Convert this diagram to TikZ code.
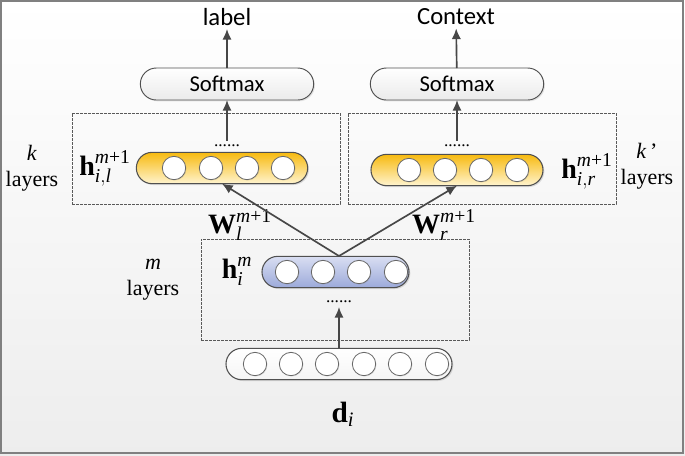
\documentclass[tikz,border=0pt]{standalone}
\usepackage{amsmath}
\usepackage{fontspec}
\setmainfont{Liberation Serif}
\newfontfamily\calibri{Carlito}
\usetikzlibrary{shapes.misc,arrows.meta,shadows}

\definecolor{yeltop}{HTML}{F7BA10}
\definecolor{yelbot}{HTML}{FFF4CF}
\definecolor{blutop}{HTML}{D9DEF2}
\definecolor{blubot}{HTML}{9CAADA}
\definecolor{edge}{HTML}{505050}

\begin{document}
\begin{tikzpicture}[x=0.75pt,y=-0.75pt,
  every node/.style={inner sep=0pt,outer sep=0pt},
  arr/.style={-{Latex[length=8pt,width=7pt]},draw=black!72,line width=1.25pt},
  softbox/.style={rounded rectangle,draw=edge,line width=0.7pt,top color=white,bottom color=black!8,
    minimum width=130pt,minimum height=24pt,font=\calibri\fontsize{17}{20}\selectfont,
    drop shadow={shadow xshift=1pt,shadow yshift=-1pt,opacity=0.2}},
  toptext/.style={inner sep=2.5pt,font=\calibri\fontsize{18.5}{22}\selectfont},
  group/.style={draw=black!65,line width=0.6pt,dash pattern=on 2pt off 1pt,minimum width=201pt},
  capsule/.style={rounded rectangle,draw=edge,line width=0.8pt,minimum height=23.5pt,
    drop shadow={shadow xshift=1pt,shadow yshift=-1pt,opacity=0.25}},
  gold/.style={capsule,top color=yeltop,bottom color=yelbot},
  lavender/.style={capsule,top color=blutop,bottom color=blubot},
  plain/.style={capsule,top color=white,bottom color=black!4},
  unit/.style={circle,draw=black!60,line width=0.6pt,fill=white,minimum size=17.5pt,
    drop shadow={shadow xshift=0.6pt,shadow yshift=-0.6pt,opacity=0.2}},
  dots/.style={inner ysep=3pt,font=\fontsize{13}{15}\selectfont},
  sidetext/.style={align=center,font=\fontsize{16.5}{19.5}\selectfont},
  mathlabel/.style={font=\fontsize{21}{24}\selectfont}]

% background and frame
\useasboundingbox (0,0) rectangle (685,455);
\fill[top color=white,bottom color=black!7] (0,0) rectangle (685,455);
\draw[black!50,line width=1pt] (1,1) rectangle (683,453);

% outputs
\node[toptext] (lab) at (227,17) {label};
\node[toptext] (ctx) at (456,17) {Context};
\node[softbox] (softL) at (227,84) {Softmax};
\node[softbox] (softR) at (457,84) {Softmax};

% dashed layer groups
\node[group,minimum height=68.25pt] (grpL) at (206,158.5) {};
\node[group,minimum height=68.25pt] (grpR) at (482,158.5) {};
\node[group,minimum height=75.75pt] (grpM) at (335,289.5) {};

% upper hidden layers
\node[gold,minimum width=128.5pt] (hidL) at (222,168) {};
\foreach \x in {174,211,247,283}
  \node[unit] at (\x,168) {};
\node[gold,minimum width=129pt] (hidR) at (457,170) {};
\foreach \x in {409,445,481,517}
  \node[unit] at (\x,170) {};
\node[dots] (dotsL) at (227,146) {......};
\node[dots] (dotsR) at (457,146) {......};

% shared hidden layer
\node[lavender,minimum width=110.25pt] (shared) at (335.5,272) {};
\foreach \x in {287,323,359,396}
  \node[unit] at (\x,272) {};
\node[dots] (dotsM) at (339,302) {......};

% input layer
\node[plain,minimum width=169.5pt] (input) at (339,364) {};
\foreach \x in {255,291,327,364,400,437}
  \node[unit] at (\x,364) {};

% labels
\node[mathlabel] (hl) at (105,168) {$\text{\textbf{h}}^{\text{\textit{m}+1}}_{\textit{i},\textit{l}}$};
\node[mathlabel] (hr) at (587,171) {$\text{\textbf{h}}^{\text{\textit{m}+1}}_{\textit{i},\textit{r}}$};
\node[mathlabel] (hm) at (237,271) {$\text{\textbf{h}}^{\textit{m}}_{\textit{i}}$};
\node[mathlabel] (wl) at (240,225) {$\text{\textbf{W}}^{\text{\textit{m}+1}}_{\textit{l}}$};
\node[mathlabel] (wr) at (444,225) {$\text{\textbf{W}}^{\text{\textit{m}+1}}_{\textit{r}}$};
\node[mathlabel,font=\fontsize{22}{24}\selectfont] (di) at (343,414) {$\text{\textbf{d}}_{\textit{i}}$};
\node[sidetext] (kl) at (32,168) {\textit{k}\\layers};
\node[sidetext] (kr) at (647,166) {\textit{k}\,'\\layers};
\node[sidetext] (ml) at (153,280) {\textit{m}\\layers};

% connections
\coordinate (apex) at (339,256);
\draw[arr] (softL) -- (lab);
\draw[arr] (softR) -- (ctx);
\draw[arr] (dotsL) -- (softL);
\draw[arr] (dotsR) -- (softR);
\draw[arr] (apex) -- (hidL.south);
\draw[arr] (apex) -- (hidR.south);
\draw[arr] (input) -- (dotsM);
\end{tikzpicture}
\end{document}
